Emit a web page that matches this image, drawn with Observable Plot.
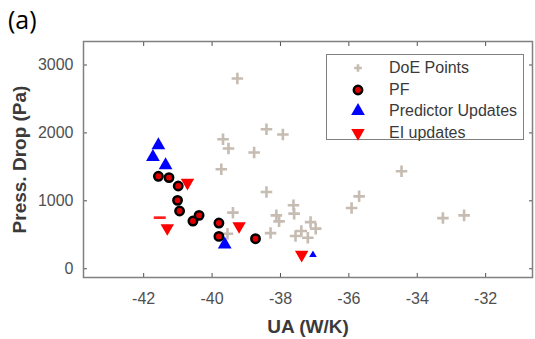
<!DOCTYPE html>
<html>
<head>
<meta charset="utf-8">
<script src="https://cdn.jsdelivr.net/npm/d3@7"></script>
<script src="https://cdn.jsdelivr.net/npm/@observablehq/plot@0.6"></script>
<style>
  html, body { margin: 0; padding: 0; background: #fff; }
  #wrap { position: relative; width: 535px; height: 339px; overflow: hidden; font-family: "Liberation Sans", Arial, sans-serif; }
  #chart { position: absolute; left: 0; top: 0; }
  #tag { position: absolute; left: 8px; top: 2px; z-index: 2; font-family: "Open Sans", "Liberation Sans", sans-serif; font-size: 25px; color: #000; }
  #legend { position: absolute; z-index: 2; left: 326px; top: 54px; width: 198px; height: 86px; border: 1.5px solid #808080; background: #fff; box-sizing: border-box; }
  .row { position: absolute; left: 0; height: 20px; display: flex; align-items: center; }
  .row svg { position: absolute; left: 23px; }
  .row span { position: absolute; left: 62px; font-size: 16px; color: #3a3a3a; white-space: nowrap; }
</style>
</head>
<body>
<div id="wrap">
  <div id="chart"></div>
  <div id="tag">(a)</div>
  <div id="legend"></div>
</div>
<script>
// ---- Data ----
const doeUA   = [-39.26, -38.41, -37.93, -39.68, -39.52, -38.77, -39.73, -38.41, -37.62, -37.60, -39.39, -38.12, -38.04, -37.12, -36.97, -37.39, -37.56, -38.29, -37.20, -39.55, -34.46, -35.70, -35.92, -33.25, -32.63];
const doeDP   = [2802, 2055, 1977, 1907, 1770, 1711, 1465, 1130, 934, 811, 826, 786, 698, 687, 590, 555, 481, 525, 457, 516, 1435, 1066, 894, 746, 786];

const pfUA    = [-41.57, -41.26, -40.99, -41.01, -40.95, -40.56, -40.38, -39.80, -39.80, -38.73];
const pfDP    = [1361, 1342, 1218, 1007, 850, 702, 786, 673, 476, 442];

const predUA  = [-41.57, -41.73, -41.36, -39.63];
const predDP  = [1819, 1646, 1524, 358];
const predLateUA = [-37.05];
const predLateDP = [206];

const eiUA    = [-40.72, -41.31, -39.21, -37.38];
const eiDP    = [1268, 599, 628, 206];
const eiDashUA = [-41.53];
const eiDashDP = [752];

const xTicks = [-42, -40, -38, -36, -34, -32];
const yTicks = [0, 1000, 2000, 3000];
const legendLabels = ["DoE Points", "PF", "Predictor Updates", "EI updates"];

// ---- helpers ----
const zip = (xs, ys) => xs.map((x, i) => ({x, y: ys[i]}));
const triDown = {
  draw(ctx, size) {
    const y = -Math.sqrt(size / (3 * Math.sqrt(3)));
    ctx.moveTo(0, -y * 2);
    ctx.lineTo(-Math.sqrt(3) * y, y);
    ctx.lineTo(Math.sqrt(3) * y, y);
    ctx.closePath();
  }
};
const dash = {
  draw(ctx, size) {
    const r = Math.sqrt(size / Math.PI);
    ctx.rect(-r * 1.25, -r * 0.28, r * 2.5, r * 0.56);
  }
};

const axisColor = "#505050";
const doeColor = "#c6bcb2";

const chart = Plot.plot({
  width: 535,
  height: 339,
  marginLeft: 83,
  marginRight: 3,
  marginTop: 41,
  marginBottom: 62,
  style: {fontFamily: "Liberation Sans, Arial, sans-serif", background: "#fff", overflow: "visible"},
  x: {domain: [-43.76, -30.63]},
  y: {domain: [-129, 3346]},
  marks: [
    Plot.axisX({anchor: "bottom", ticks: xTicks, tickSize: -4, tickPadding: 19, fontSize: 16, color: axisColor, label: null, tickFormat: d => String(d)}),
    Plot.axisX({anchor: "top", ticks: xTicks, tickSize: -4, tickFormat: () => "", label: null, color: axisColor}),
    Plot.axisY({anchor: "left", ticks: yTicks, tickSize: -4, tickPadding: 14, fontSize: 16, color: axisColor, label: null, tickFormat: d => String(d)}),
    Plot.axisY({anchor: "right", ticks: yTicks, tickSize: -4, tickFormat: () => "", label: null, color: axisColor}),
    Plot.frame({stroke: "#808080", strokeWidth: 1.5}),
    Plot.dot(zip(doeUA, doeDP), {x: "x", y: "y", symbol: "plus", r: 3.8, stroke: doeColor, strokeWidth: 2.6}),
    Plot.dot(zip(pfUA, pfDP), {x: "x", y: "y", symbol: "circle", r: 4.2, fill: "#e00000", stroke: "#000", strokeWidth: 2.5}),
    Plot.dot(zip(predUA, predDP), {x: "x", y: "y", symbol: "triangle", r: 5.1, fill: "#0000ff"}),
    Plot.dot(zip(predLateUA, predLateDP), {x: "x", y: "y", symbol: "triangle", r: 2.8, fill: "#0000ff"}),
    Plot.dot(zip(eiUA, eiDP), {x: "x", y: "y", symbol: triDown, r: 5, fill: "#ff0000"}),
    Plot.dot(zip(eiDashUA, eiDashDP), {x: "x", y: "y", symbol: dash, r: 4.8, fill: "#ff2020"}),
    Plot.text(["UA (W/K)"], {frameAnchor: "bottom", text: d => d, dy: 49, textAnchor: "middle", lineAnchor: "middle", fontSize: 19, fontWeight: "bold", fill: "#3a3a3a"}),
    Plot.text(["Press. Drop (Pa)"], {frameAnchor: "left", text: d => d, dx: -64, rotate: -90, textAnchor: "middle", lineAnchor: "middle", fontSize: 19, fontWeight: "bold", fill: "#3a3a3a"})
  ]
});
document.getElementById("chart").appendChild(chart);

// ---- legend ----
const legend = document.getElementById("legend");
const icons = [
  `<svg width="16" height="16" viewBox="-8 -8 16 16"><path d="M-3.8,0H3.8M0,-3.8V3.8" stroke="${doeColor}" stroke-width="2.6"/></svg>`,
  `<svg width="16" height="16" viewBox="-8 -8 16 16"><circle r="4.2" fill="#e00000" stroke="#000" stroke-width="2.5"/></svg>`,
  `<svg width="16" height="16" viewBox="-8 -8 16 16"><path d="${d3.symbol(d3.symbolTriangle, Math.PI * 5.1 * 5.1)()}" fill="#0000ff"/></svg>`,
  `<svg width="16" height="16" viewBox="-8 -8 16 16"><path d="${d3.symbol(triDown, Math.PI * 5 * 5)()}" fill="#ff0000"/></svg>`
];
legendLabels.forEach((label, i) => {
  const row = document.createElement("div");
  row.className = "row";
  row.style.top = (3 + i * 21.7) + "px";
  row.innerHTML = icons[i] + `<span>${label}</span>`;
  legend.appendChild(row);
});
</script>
</body>
</html>
